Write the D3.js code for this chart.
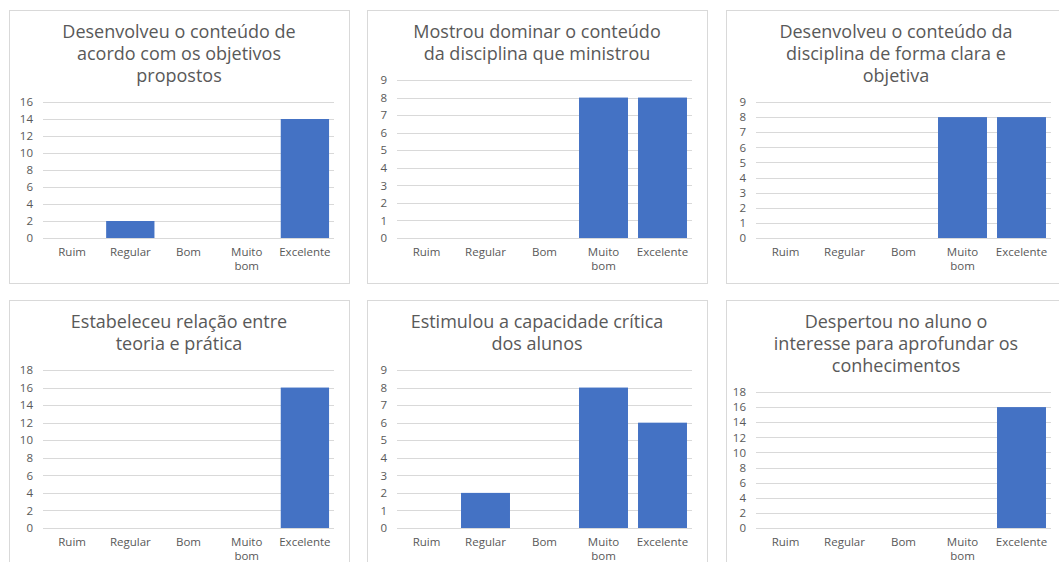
<!DOCTYPE html>
<html>
<head>
<meta charset="utf-8">
<script src="https://cdn.jsdelivr.net/npm/d3@7"></script>
<style>
  html, body { margin: 0; padding: 0; background: #fff; }
  svg { display: block; }
</style>
</head>
<body>
<svg id="chart" width="1059" height="562"></svg>
<script>
// ---- Data ----
const categories = ["Ruim", "Regular", "Bom", "Muito bom", "Excelente"];

const titles = [
  ["Desenvolveu o conteúdo de", "acordo com os objetivos", "propostos"],
  ["Mostrou dominar o conteúdo", "da disciplina que ministrou"],
  ["Desenvolveu o conteúdo da", "disciplina de forma clara e", "objetiva"],
  ["Estabeleceu relação entre", "teoria e prática"],
  ["Estimulou a capacidade crítica", "dos alunos"],
  ["Despertou no aluno o", "interesse para aprofundar os", "conhecimentos"]
];

const values1 = [0, 2, 0, 0, 14];
const values2 = [0, 0, 0, 8, 8];
const values3 = [0, 0, 0, 8, 8];
const values4 = [0, 0, 0, 0, 16];
const values5 = [0, 2, 0, 8, 6];
const values6 = [0, 0, 0, 0, 16];
const seriesValues = [values1, values2, values3, values4, values5, values6];

const yMax = [16, 9, 9, 18, 9, 18];
const yStep = [2, 1, 1, 2, 1, 2];

// ---- Layout ----
const panelLeft = [9, 367, 726, 9, 367, 726];
const panelTop = [10, 10, 10, 300, 300, 300];
const panelW = 340, panelH = 273;
const plotLeftOff = [34, 30, 30, 34, 30, 30];
const plotRightOff = 325;

const svg = d3.select("#chart");
const textColor = "#595959";
const gridColor = "#d9d9d9";
const barColor = "#4472c4";
const font = "'Open Sans', sans-serif";

seriesValues.forEach((vals, i) => {
  const px = panelLeft[i], py = panelTop[i];
  const g = svg.append("g");

  g.append("rect")
    .attr("x", px + 0.5).attr("y", py + 0.5)
    .attr("width", panelW).attr("height", panelH)
    .attr("fill", "#fff").attr("stroke", gridColor).attr("stroke-width", 1);

  const lines = titles[i];
  const cx = px + panelW / 2;
  lines.forEach((t, k) => {
    g.append("text")
      .attr("x", cx).attr("y", py + 28 + k * 22)
      .attr("text-anchor", "middle")
      .attr("font-family", font).attr("font-size", "18px")
      .attr("fill", textColor)
      .text(t);
  });

  const plotTop = py + (lines.length === 3 ? 92 : 70);
  const plotBottom = py + 228;
  const x0 = px + plotLeftOff[i], x1 = px + plotRightOff;

  const x = d3.scaleBand().domain(categories).range([x0, x1])
    .paddingInner(0.17).paddingOuter(0.085);
  const y = d3.scaleLinear().domain([0, yMax[i]]).range([plotBottom, plotTop]);

  const ticks = d3.range(0, yMax[i] + 0.001, yStep[i]);

  // gridlines
  g.selectAll(".grid").data(ticks).join("line")
    .attr("x1", x0).attr("x2", x1)
    .attr("y1", d => Math.round(y(d)) + 0.5).attr("y2", d => Math.round(y(d)) + 0.5)
    .attr("stroke", gridColor).attr("stroke-width", 1);

  // y axis labels via d3 axis
  const yAxis = d3.axisLeft(y).tickValues(ticks).tickSize(0).tickPadding(10);
  const ya = g.append("g").attr("transform", `translate(${x0},0)`).call(yAxis);
  ya.select(".domain").remove();
  ya.selectAll("text")
    .attr("font-family", font).attr("font-size", "11.5px").attr("fill", textColor);

  // bars
  g.selectAll(".bar").data(vals.map((v, j) => ({ c: categories[j], v })))
    .join("rect")
    .attr("x", d => x(d.c)).attr("width", x.bandwidth())
    .attr("y", d => y(d.v)).attr("height", d => y(0) - y(d.v))
    .attr("fill", barColor);

  // x axis labels via d3 axis, with wrapping
  const xAxis = d3.axisBottom(x).tickSize(0).tickPadding(0);
  const xa = g.append("g").attr("transform", `translate(0,${plotBottom})`).call(xAxis);
  xa.select(".domain").remove();
  xa.selectAll(".tick text").each(function (d) {
    const el = d3.select(this);
    const words = d.split(" ");
    el.text(null).attr("y", 0).attr("dy", null)
      .attr("font-family", font).attr("font-size", "11.5px").attr("fill", textColor);
    words.forEach((w, k) => {
      el.append("tspan").attr("x", 0).attr("y", 18 + k * 13.5).text(w);
    });
  });
});
</script>
</body>
</html>
